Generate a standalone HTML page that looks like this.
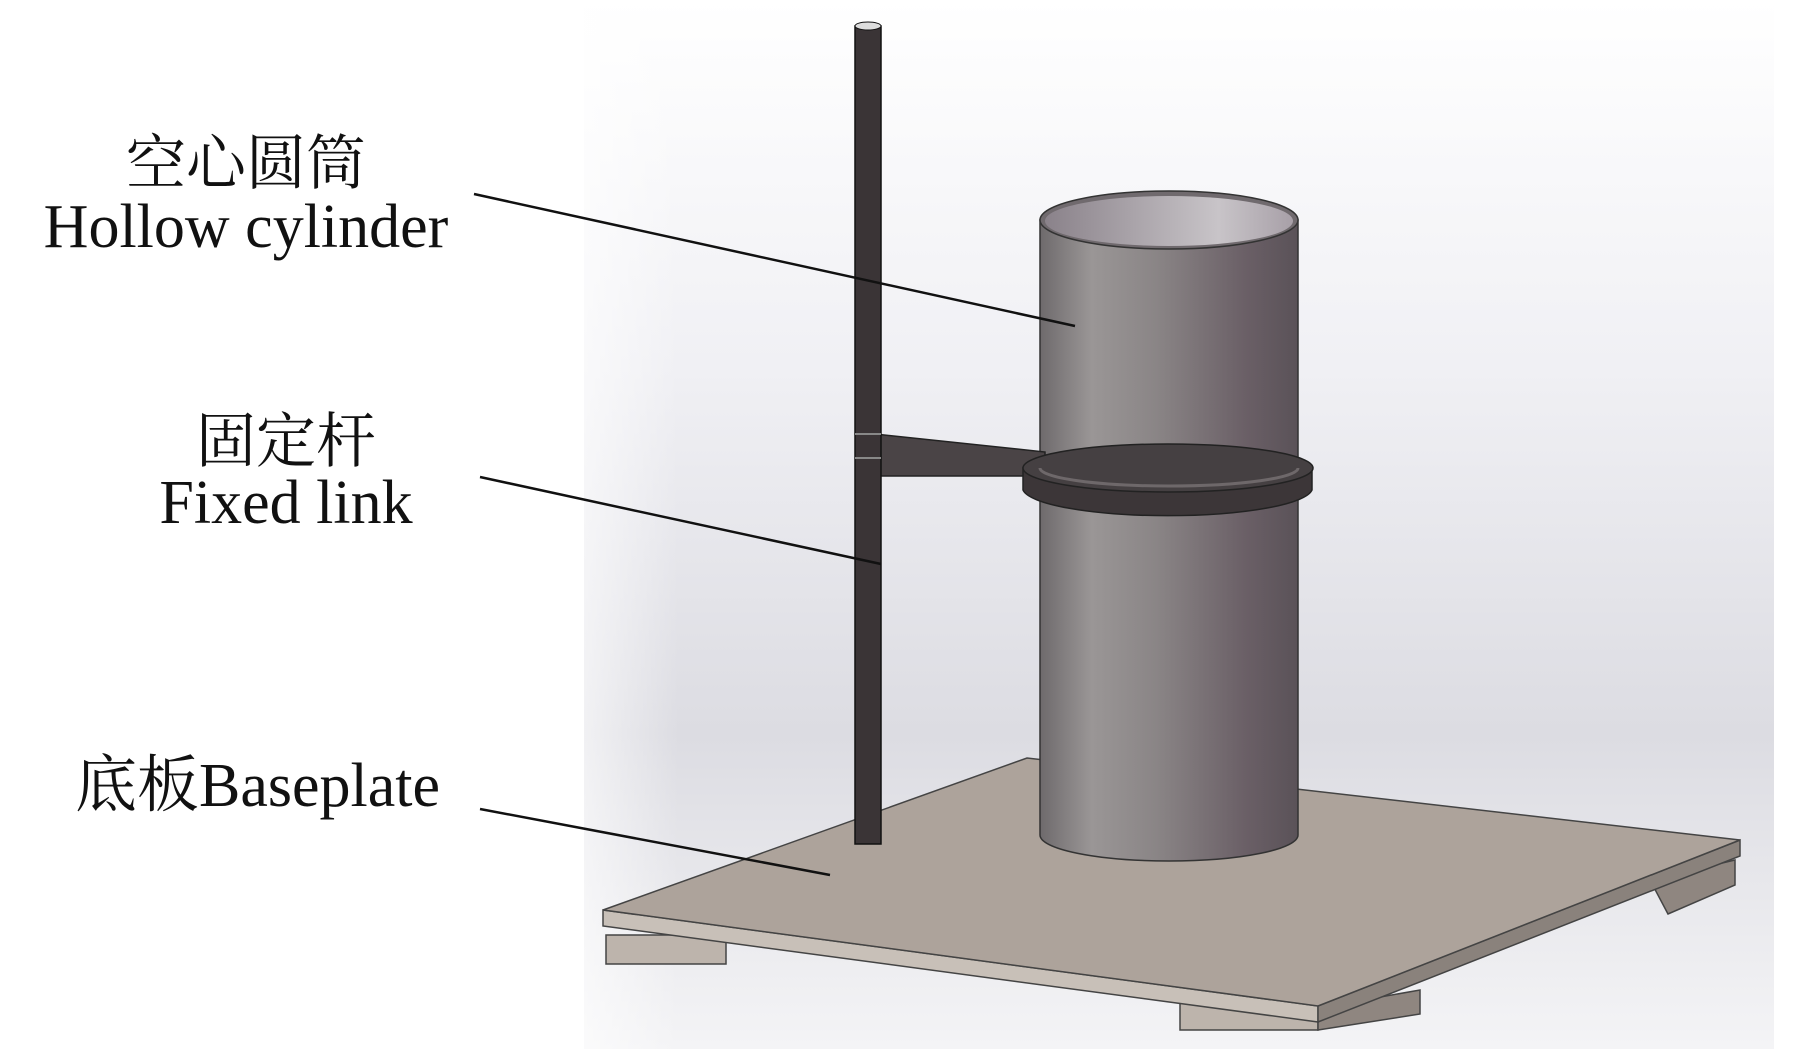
<!DOCTYPE html>
<html><head><meta charset="utf-8"><style>
html,body{margin:0;padding:0;background:#fff;}
svg{display:block}
text{font-family:"Liberation Serif","Noto Serif CJK SC",serif;fill:#111;}
</style></head><body>
<svg width="1803" height="1049" viewBox="0 0 1803 1049" xmlns="http://www.w3.org/2000/svg">
<defs>
<linearGradient id="bg" x1="0" y1="0" x2="0" y2="1">
<stop offset="0" stop-color="#ffffff"/><stop offset="0.35" stop-color="#f0f0f4"/><stop offset="0.7" stop-color="#dcdce2"/><stop offset="1" stop-color="#f4f4f6"/></linearGradient>
<linearGradient id="bgl" x1="0" y1="0" x2="1" y2="0">
<stop offset="0" stop-color="#fff" stop-opacity="0.6"/><stop offset="0.08" stop-color="#fff" stop-opacity="0"/></linearGradient>
<linearGradient id="cyl" x1="0" y1="0" x2="1" y2="0">
<stop offset="0" stop-color="#6e6a6c"/><stop offset="0.2" stop-color="#9a9696"/><stop offset="0.45" stop-color="#8a8586"/><stop offset="0.8" stop-color="#6a5f66"/><stop offset="1" stop-color="#5a5258"/></linearGradient>
<linearGradient id="inner" x1="0" y1="0" x2="1" y2="0">
<stop offset="0" stop-color="#8a828a"/><stop offset="0.7" stop-color="#c8c4c8"/><stop offset="1" stop-color="#a8a0a8"/></linearGradient>
</defs>
<rect x="584" y="0" width="1190" height="1049" fill="url(#bg)"/>
<rect x="584" y="0" width="1190" height="1049" fill="url(#bgl)"/>
<!-- baseplate -->
<rect x="606" y="935" width="120" height="29" fill="#bdb4ac" stroke="#444" stroke-width="1.5"/>
<rect x="1180" y="985" width="138" height="45" fill="#bdb4ac" stroke="#444" stroke-width="1.5"/>
<polygon points="1650,880 1735,860 1735,885 1668,914" fill="#8f8680" stroke="#444" stroke-width="1.5"/>
<polygon points="1420,990 1420,1014 1318,1030 1318,1008" fill="#8f8680" stroke="#444" stroke-width="1.5"/>
<polygon points="603,910 1318,1006 1318,1022 603,926" fill="#c8c0b8" stroke="#444" stroke-width="1.5"/>
<polygon points="1318,1006 1740,840 1740,856 1318,1022" fill="#8a827c" stroke="#444" stroke-width="1.5"/>
<polygon points="603,910 1027,758 1740,840 1318,1006" fill="#ada39b" stroke="#444" stroke-width="1.5"/>
<!-- cylinder -->
<path d="M1040,220 L1040,835 A129,26 0 0 0 1298,835 L1298,220 Z" fill="url(#cyl)" stroke="#333" stroke-width="1.5"/>
<ellipse cx="1169" cy="220" rx="129" ry="29" fill="#706a6e" stroke="#333" stroke-width="1.5"/>
<ellipse cx="1169" cy="221" rx="124" ry="25" fill="url(#inner)"/>
<!-- arm -->
<polygon points="875,434 1045,452 1045,476 875,476" fill="#4a4446" stroke="#222" stroke-width="1.5"/>
<!-- ring -->
<path d="M1023,468 L1023,490 A145,28 0 0 0 1312,490 L1312,468 Z" fill="#3c3638" stroke="#222" stroke-width="1.5"/>
<ellipse cx="1168" cy="468" rx="145" ry="24" fill="#454042" stroke="#222" stroke-width="1.5"/>
<path d="M1040,468 A129,18 0 0 0 1298,468" fill="none" stroke="#6e686a" stroke-width="3"/>
<!-- rod -->
<rect x="855" y="26" width="26" height="818" fill="#3a3436" stroke="#111" stroke-width="1.5"/>
<ellipse cx="868" cy="26" rx="13" ry="4" fill="#ddd" stroke="#111"/>
<line x1="855" y1="434" x2="881" y2="434" stroke="#888" stroke-width="2"/>
<line x1="855" y1="458" x2="881" y2="458" stroke="#888" stroke-width="2"/>
<!-- leader lines -->
<line x1="474" y1="194" x2="1075" y2="326" stroke="#111" stroke-width="2.5"/>
<line x1="480" y1="477" x2="881" y2="564" stroke="#111" stroke-width="2.5"/>
<line x1="480" y1="809" x2="830" y2="875" stroke="#111" stroke-width="2.5"/>
<!-- labels -->
<text x="246" y="184" font-size="60" text-anchor="middle">空心圆筒</text>
<text x="246" y="247" font-size="62" text-anchor="middle">Hollow cylinder</text>
<text x="286" y="462" font-size="60" text-anchor="middle">固定杆</text>
<text x="286" y="523" font-size="62" text-anchor="middle">Fixed link</text>
<text x="75" y="806" font-size="62">底板Baseplate</text>
</svg>
</body></html>
